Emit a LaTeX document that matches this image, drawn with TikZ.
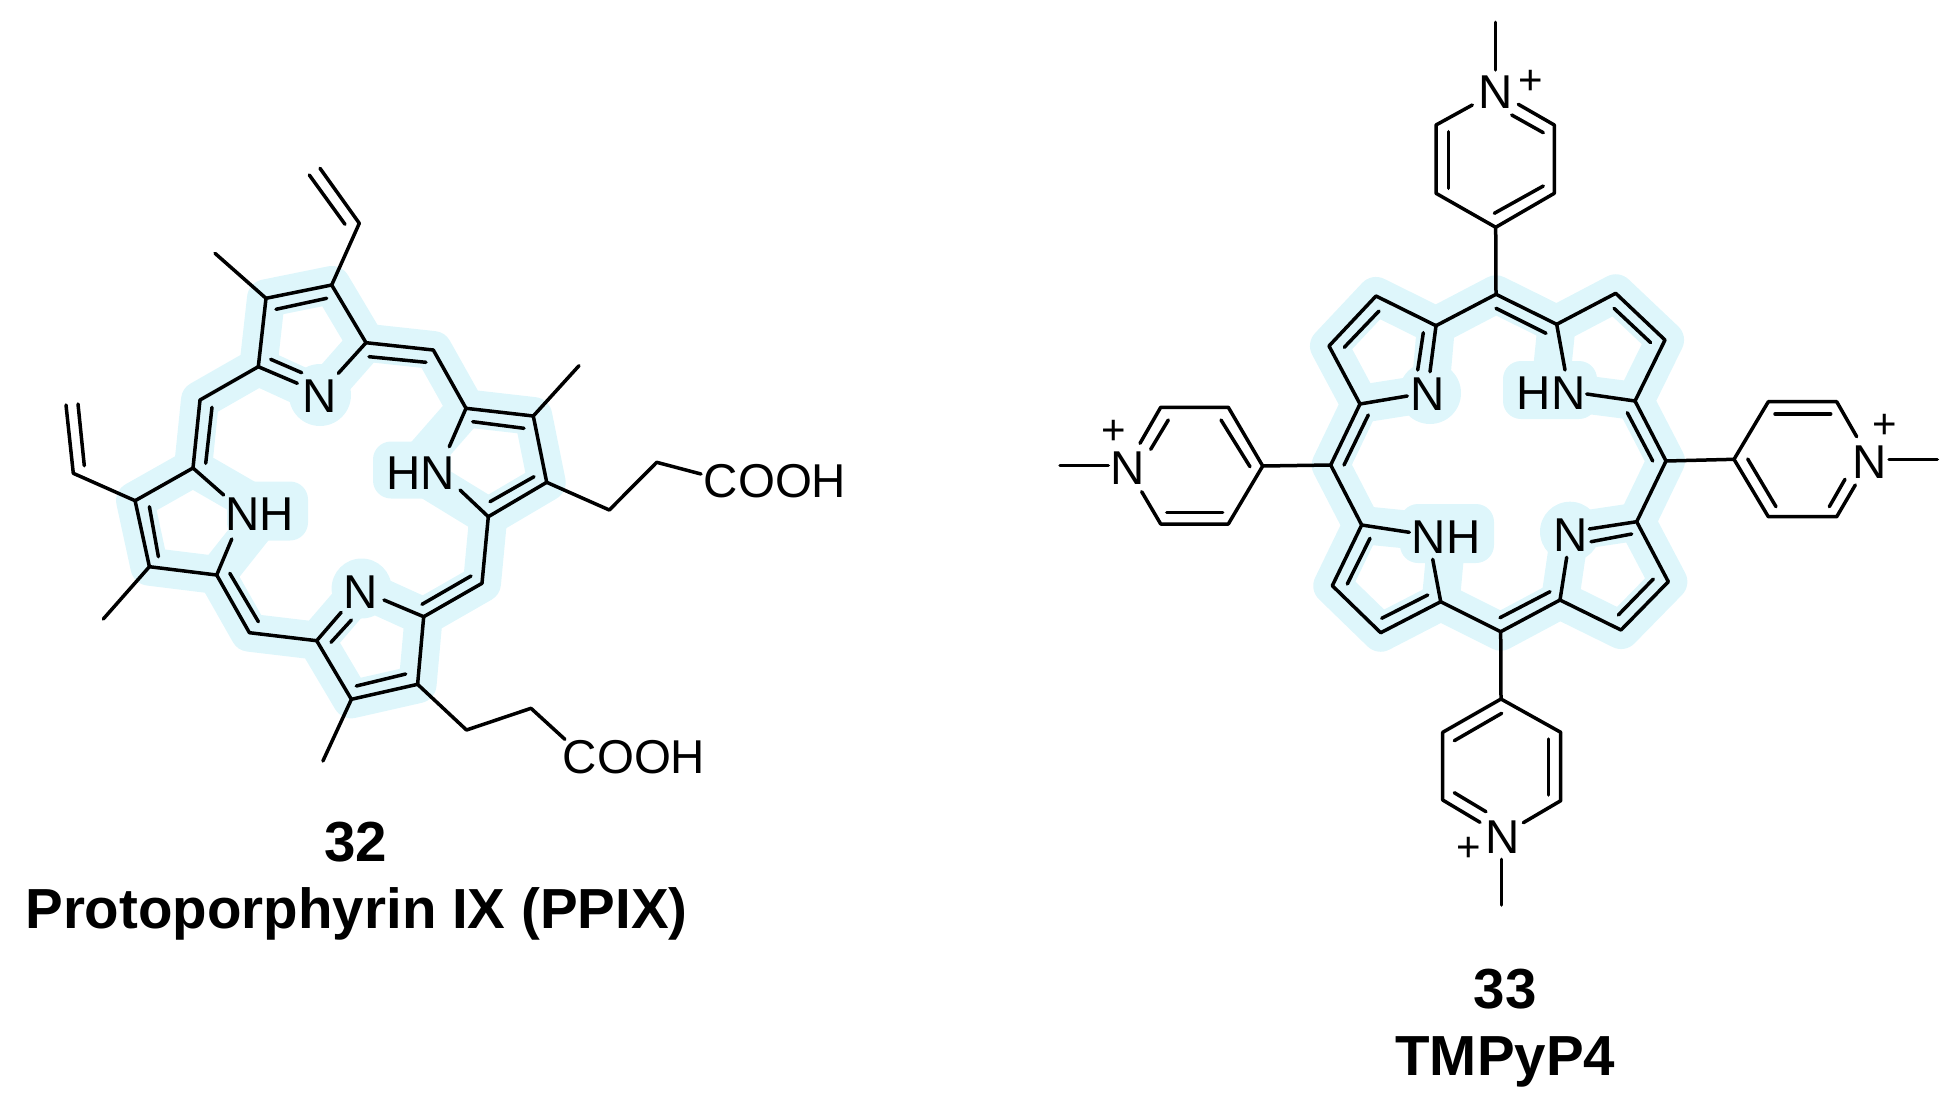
\documentclass[tikz,border=0pt]{standalone}
\usepackage{fontspec}
\setmainfont{Liberation Sans}
\definecolor{halocol}{HTML}{DEF6FB}
\tikzset{
  bond/.style={draw=black,line width=3.5pt,line cap=round,line join=round},
  halo/.style={draw=halocol,line width=38pt,line cap=round,line join=round},
  halocirc/.style={circle,fill=halocol,minimum size=62pt,inner sep=0pt},
  halobox/.style={rectangle,fill=halocol,rounded corners=18pt,inner sep=0pt},
  atom/.style={inner sep=0pt,font=\fontsize{47.5}{50}\selectfont},
  charge/.style={inner sep=0pt,font=\fontsize{42}{44}\selectfont},
  caption/.style={inner sep=0pt,anchor=base,font=\bfseries\fontsize{56.5}{60}\selectfont},
}
\begin{document}
\begin{tikzpicture}[x=1pt,y=-1pt]
\useasboundingbox (0,0) rectangle (1960,1111);
% ---------- coordinates of molecule 32
\foreach \n/\x/\y in {
 a1/331.7/285, a2/266/298.3, a3/258.3/366.7, a4/366/342.7,
 av/359.3/223.3, avE/320/168.3, avI/309.3/175, avJ/345/224.3, aM/215/253.3,
 aD1/276/309.3, aD2/326.7/298.3, aN1/297.3/383.3, aN2/270.7/359.3, aN3/301.7/372.7, aN4/338.3/373.3,
 m1/433.3/350, m1a/369/356.7, m1b/426/362.3,
 b1/466/408.3, b2/533.3/416, b3/546.7/482.3, b4/488.3/516.7,
 bN1/449.3/446.7, bN2/460/490, bD1/472.7/421.7, bD2/524/428.3, bD3/490/501.7, bD4/534/476.7, bM/579/365.7,
 bC1/609.3/510, bC2/656.7/462.3, bC3/701/474,
 m2/482/583.3, m2a/422/604.3, m2b/471/576,
 c1/423.7/616.7, c2/417.6/684.3, c3/351.4/699.3, c4/316.7/640.7,
 cN1/384/600, cN2/341.2/612.3, cN3/331/642.3, cN4/351.4/620, cD1/356.3/686, cD2/405.7/674, cM/322.9/761,
 cC1/466.5/730, cC2/531/708.3, cC3/564.9/739.3,
 m3/249.4/632.7, m3a/229.8/573.3, m3b/258.4/621.7,
 d1/216.7/575, d2/149.4/566.7, d3/135.1/500.7, d4/193/468,
 dN1/223.7/495, dN2/231.8/539, dD1/149.4/506.7, dD2/158.4/556.7, dM/103.3/619,
 dv/73.3/473.3, dvE/66/405, dvI/78/404, dvJ/84.3/465.7,
 m4/200/400, m4a/212/407.3, m4b/205.7/463.3,
 % ---------- coordinates of molecule 33
 e1/1436/325.7, e2/1376/296, e3/1329/346, e4/1360/404,
 eN1/1430/371.7, eN2/1423.3/332.7, eN3/1417.7/370, eN4/1407.3/396, eD1/1379/311, eD2/1344.3/347.3,
 t/1496/294.3, ta/1496/308.3, tb/1546/333.3,
 f1/1556.7/324.3, f2/1615.7/293.3, f3/1665/340, f4/1635/401,
 fN1/1565/370, fN2/1586.7/394, fD1/1614/308.3, fD2/1650.7/342.7,
 r/1666/461, ra/1627.3/412.7, rb/1652.7/461,
 g1/1636.7/521.7, g2/1668.3/581.7, g3/1621/630, g4/1560/600,
 gN1/1589.3/529, gN2/1631.7/534, gN3/1591/541.7, gN4/1566.7/557.3, gD1/1653.3/579, gD2/1618.3/615,
 u/1500.7/631.7, ua/1500/617.7, ub/1550/591.7,
 h1/1440.7/601.7, h2/1380.7/632.7, h3/1332.3/585.7, h4/1361.7/525,
 hN1/1432.7/559.3, hN2/1409.3/532.3, hD1/1370/538.3, hD2/1347.3/584, hD3/1381.7/618.3, hD4/1427.7/595,
 l/1330.7/465, la/1368.3/415, lb/1344/465,
 % pyridinium, top
 p1/1495.7/227.3, p2/1436/193.3, p3/1436/125, p4/1472.3/105, p5/1518.3/104.3, p6/1554.3/125, p7/1554.3/193.3,
 pI1/1448.7/131.7, pI2/1448.7/188.3, pI3/1511.7/115, pI4/1543.3/132.7, pI5/1494.3/213.3, pI6/1543.3/186,
 pMa/1495.7/70, pMb/1495.7/22.3,
 % pyridinium, bottom
 q1/1501/699, q2/1442.7/732.3, q3/1442.7/800, q4/1480/822.3, q5/1523.3/822.7, q6/1560.7/800.7, q7/1560.7/732.3,
 qI1/1454.3/740.7, qI2/1501.7/713.3, qI3/1454.3/792.7, qI4/1486/811.7, qI5/1548.3/739, qI6/1548.3/795,
 qMa/1501.3/859.3, qMb/1501.3/905,
 % pyridinium, left
 v1/1262.7/466, v2/1228.3/407.3, v3/1160.7/407.3, v4/1140/443.3, v5/1141.7/491.7, v6/1160.7/524, v7/1228.3/524,
 vI1/1168.3/420, vI2/1150.7/449.3, vI3/1166.7/512.3, vI4/1222.7/512.3, vI5/1221/420, vI6/1250/466.7,
 vMa/1108.3/465.7, vMb/1060/465.7,
 % pyridinium, right
 w1/1734/459.3, w2/1768.3/401.7, w3/1836.7/401.7, w4/1856.7/436.7, w5/1855.3/485, w6/1836.7/516.7, w7/1768.3/516.7,
 wI1/1775/414, wI2/1830.7/414, wI3/1747.7/459, wI4/1776/506.7, wI5/1845/479.3, wI6/1829.3/506.7,
 wMa/1889/459.3, wMb/1937.3/459.3}
 {\coordinate (\n) at (\x,\y);}
% ---------- halos, molecule 32
\draw[halo] (a1)--(a2)--(a3)--(m4)--(d4)--(d3)--(d2)--(d1)--(m3)--(c4)--(c3)--(c2)--(c1)--(m2)--(b4)--(b3)--(b2)--(b1)--(m1)--(a4)--cycle;
\node[halocirc] (ha) at (320,395) {};
\node[halocirc,minimum size=60pt] (hc) at (361.6,588.5) {};
\node[halobox,minimum width=81pt,minimum height=59pt] (hd) at (267.5,511) {};
\node[halobox,minimum width=78pt,minimum height=57pt] (hb) at (412,470) {};
\draw[halo] (a3)--(ha.center)--(a4);
\draw[halo] (c4)--(hc.center)--(c1);
\draw[halo] (d4)--(hd.center)--(d1);
\draw[halo] (b1)--(hb.center)--(b4);
% ---------- halos, molecule 33
\draw[halo] (e1)--(e2)--(e3)--(e4)--(l)--(h4)--(h3)--(h2)--(h1)--(u)--(g4)--(g3)--(g2)--(g1)--(r)--(f4)--(f3)--(f2)--(f1)--(t)--cycle;
\node[halocirc] (he) at (1430,393) {};
\node[halobox,minimum width=94pt,minimum height=58pt] (hf) at (1550,390) {};
\node[halocirc,minimum size=60pt] (hg) at (1570,531.7) {};
\node[halobox,minimum width=94pt,minimum height=59pt] (hh) at (1447,533.5) {};
\draw[halo] (e1)--(he.center)--(e4);
\draw[halo] (f1)--(hf.center)--(f4);
\draw[halo] (g1)--(hg.center)--(g4);
\draw[halo] (h1)--(hh.center)--(h4);
% ---------- bonds, molecule 32
\draw[bond] (a4)--(a1)--(a2)--(a3)--(aN1);
\draw[bond] (a4)--(aN4);
\draw[bond] (aD1)--(aD2);
\draw[bond] (aN2)--(aN3);
\draw[bond] (a1)--(av)--(avE);
\draw[bond] (avI)--(avJ);
\draw[bond] (a2)--(aM);
\draw[bond] (a4)--(m1)--(b1);
\draw[bond] (m1a)--(m1b);
\draw[bond] (bN1)--(b1)--(b2)--(b3)--(b4)--(bN2);
\draw[bond] (bD1)--(bD2);
\draw[bond] (bD3)--(bD4);
\draw[bond] (b2)--(bM);
\draw[bond] (b3)--(bC1)--(bC2)--(bC3);
\draw[bond] (b4)--(m2)--(c1);
\draw[bond] (m2a)--(m2b);
\draw[bond] (cN1)--(c1)--(c2)--(c3)--(c4)--(cN2);
\draw[bond] (cN3)--(cN4);
\draw[bond] (cD1)--(cD2);
\draw[bond] (c3)--(cM);
\draw[bond] (c2)--(cC1)--(cC2)--(cC3);
\draw[bond] (c4)--(m3)--(d1);
\draw[bond] (m3a)--(m3b);
\draw[bond] (dN2)--(d1)--(d2)--(d3)--(d4)--(dN1);
\draw[bond] (dD1)--(dD2);
\draw[bond] (d2)--(dM);
\draw[bond] (d3)--(dv)--(dvE);
\draw[bond] (dvI)--(dvJ);
\draw[bond] (d4)--(m4)--(a3);
\draw[bond] (m4a)--(m4b);
% ---------- bonds, molecule 33
\draw[bond] (eN1)--(e1)--(e2)--(e3)--(e4)--(eN4);
\draw[bond] (eN2)--(eN3);
\draw[bond] (eD1)--(eD2);
\draw[bond] (e1)--(t)--(f1);
\draw[bond] (ta)--(tb);
\draw[bond] (fN1)--(f1)--(f2)--(f3)--(f4)--(fN2);
\draw[bond] (fD1)--(fD2);
\draw[bond] (f4)--(r)--(g1);
\draw[bond] (ra)--(rb);
\draw[bond] (gN1)--(g1)--(g2)--(g3)--(g4)--(gN4);
\draw[bond] (gN2)--(gN3);
\draw[bond] (gD1)--(gD2);
\draw[bond] (g4)--(u)--(h1);
\draw[bond] (ua)--(ub);
\draw[bond] (hN1)--(h1)--(h2)--(h3)--(h4)--(hN2);
\draw[bond] (hD1)--(hD2);
\draw[bond] (hD3)--(hD4);
\draw[bond] (h4)--(l)--(e4);
\draw[bond] (la)--(lb);
% meso links and pyridinium rings
\draw[bond] (t)--(p1);
\draw[bond] (u)--(q1);
\draw[bond] (l)--(v1);
\draw[bond] (r)--(w1);
\draw[bond] (p4)--(p3)--(p2)--(p1)--(p7)--(p6)--(p5);
\draw[bond] (pI1)--(pI2);
\draw[bond] (pI3)--(pI4);
\draw[bond] (pI5)--(pI6);
\draw[bond] (pMa)--(pMb);
\draw[bond] (q4)--(q3)--(q2)--(q1)--(q7)--(q6)--(q5);
\draw[bond] (qI1)--(qI2);
\draw[bond] (qI3)--(qI4);
\draw[bond] (qI5)--(qI6);
\draw[bond] (qMa)--(qMb);
\draw[bond] (v4)--(v3)--(v2)--(v1)--(v7)--(v6)--(v5);
\draw[bond] (vI1)--(vI2);
\draw[bond] (vI3)--(vI4);
\draw[bond] (vI5)--(vI6);
\draw[bond] (vMa)--(vMb);
\draw[bond] (w4)--(w3)--(w2)--(w1)--(w7)--(w6)--(w5);
\draw[bond] (wI1)--(wI2);
\draw[bond] (wI3)--(wI4);
\draw[bond] (wI5)--(wI6);
\draw[bond] (wMa)--(wMb);
% ---------- atom labels, molecule 32
\node[atom] (Na) at (320,395.8) {N};
\node[atom] (Nc) at (360.8,592) {N};
\node[atom] (Nd) at (260,514) {NH};
\node[atom] (Nb) at (420.8,473) {HN};
\node[atom] (COa) at (775,481) {COOH};
\node[atom] (COb) at (634,757) {COOH};
% ---------- atom labels, molecule 33
\node[atom] (Ne) at (1428,394.5) {N};
\node[atom] (Nf) at (1551,393) {HN};
\node[atom] (Ng) at (1570.2,535) {N};
\node[atom] (Nh) at (1446,536.7) {NH};
\node[atom] (Np) at (1495.7,92.5) {N};
\node[atom] (Nq) at (1502.5,836.7) {N};
\node[atom] (Nv) at (1128,468) {N};
\node[atom] (Nw) at (1869.5,462) {N};
\node[charge] (Pp) at (1531,82.7) {+};
\node[charge] (Pq) at (1468.3,849.3) {+};
\node[charge] (Pv) at (1113.3,432.3) {+};
\node[charge] (Pw) at (1884.3,426.7) {+};
% ---------- captions
\node[caption] (c32) at (355.5,861.7) {32};
\node[caption] (n32) at (356.5,928.3) {Protoporphyrin IX (PPIX)};
\node[caption] (c33) at (1505,1008.3) {33};
\node[caption] (n33) at (1505.3,1075) {TMPyP4};
\end{tikzpicture}
\end{document}
